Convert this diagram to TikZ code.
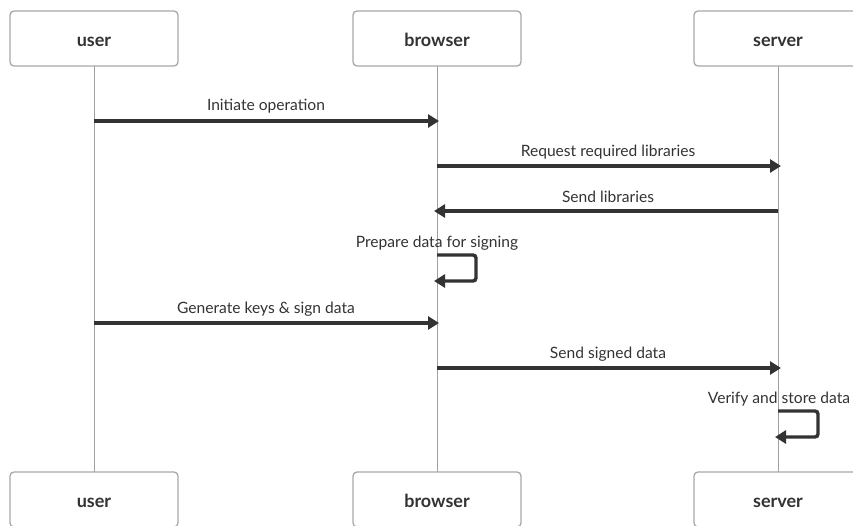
\documentclass[tikz,border=0pt]{standalone}
\usepackage{fontspec}
\setmainfont{Lato}
\usepackage{xcolor}
\usetikzlibrary{arrows.meta}

\definecolor{boxline}{HTML}{A8A8A8}
\definecolor{lifeline}{HTML}{A0A0A0}
\definecolor{msgline}{HTML}{333333}
\definecolor{txt}{HTML}{333333}

\tikzset{
  actor/.style = {draw=boxline, line width=1.3pt, rounded corners=4pt, fill=white,
                  minimum width=168pt, minimum height=55pt, text=txt,
                  text height=15pt, text depth=0pt,
                  font=\fontsize{18}{20}\selectfont\bfseries},
  life/.style  = {draw=lifeline, line width=1pt},
  msg/.style   = {draw=msgline, line width=3.4pt, -{Triangle[length=11pt,width=13pt]}},
  lbl/.style   = {text=txt, font=\fontsize{15.6}{18}\selectfont}
}

\begin{document}
\begin{tikzpicture}[
            x = 1pt, y = -1pt, % pixel grid, y downwards
            line join = miter
        ]
\useasboundingbox (0,0) rectangle (853,525);

% lifelines first, boxes on top
\coordinate (U0) at (94,66);   \coordinate (U1) at (94,472);
\coordinate (B0) at (437,66);  \coordinate (B1) at (437,472);
\coordinate (S0) at (778,66);  \coordinate (S1) at (778,472);
\draw[life] (U0) -- (U1);
\draw[life] (B0) -- (B1);
\draw[life] (S0) -- (S1);

\node[actor] (userT) at (94,38.5) {user};
\node[actor] (browserT) at (437,38.5) {browser};
\node[actor] (serverT) at (778,38.5) {server};
\node[actor] (userB) at (94,499.5) {user};
\node[actor] (browserB) at (437,499.5) {browser};
\node[actor] (serverB) at (778,499.5) {server};

% messages
\coordinate (m1a) at (94,121);  \coordinate (m1b) at (439,121);
\coordinate (m2a) at (437,166); \coordinate (m2b) at (781,166);
\coordinate (m3a) at (778,211); \coordinate (m3b) at (434,211);
\coordinate (m5a) at (94,323);  \coordinate (m5b) at (439,323);
\coordinate (m6a) at (437,368); \coordinate (m6b) at (781,368);

\draw[msg] (m1a) -- (m1b);
\node[lbl] (t1) at (266,106) {Initiate operation};
\draw[msg] (m2a) -- (m2b);
\node[lbl] (t2) at (608,152) {Request required libraries};
\draw[msg] (m3a) -- (m3b);
\node[lbl] (t3) at (608,197) {Send libraries};

% self call on browser
\coordinate (p0) at (437,255); \coordinate (p1) at (476,255);
\coordinate (p2) at (476,281); \coordinate (p3) at (434,281);
\draw[msg, rounded corners=3pt] (p0) -- (p1) -- (p2) -- (p3);
\node[lbl] (t4) at (437,243) {Prepare data for signing};

\draw[msg] (m5a) -- (m5b);
\node[lbl] (t5) at (266,309) {Generate keys \& sign data};
\draw[msg] (m6a) -- (m6b);
\node[lbl] (t6) at (608,354) {Send signed data};

% self call on server
\coordinate (v0) at (778,411); \coordinate (v1) at (818,411);
\coordinate (v2) at (818,437); \coordinate (v3) at (775,437);
\draw[msg, rounded corners=3pt] (v0) -- (v1) -- (v2) -- (v3);
\node[lbl] (t7) at (779,399) {Verify and store data};
\end{tikzpicture}
\end{document}
